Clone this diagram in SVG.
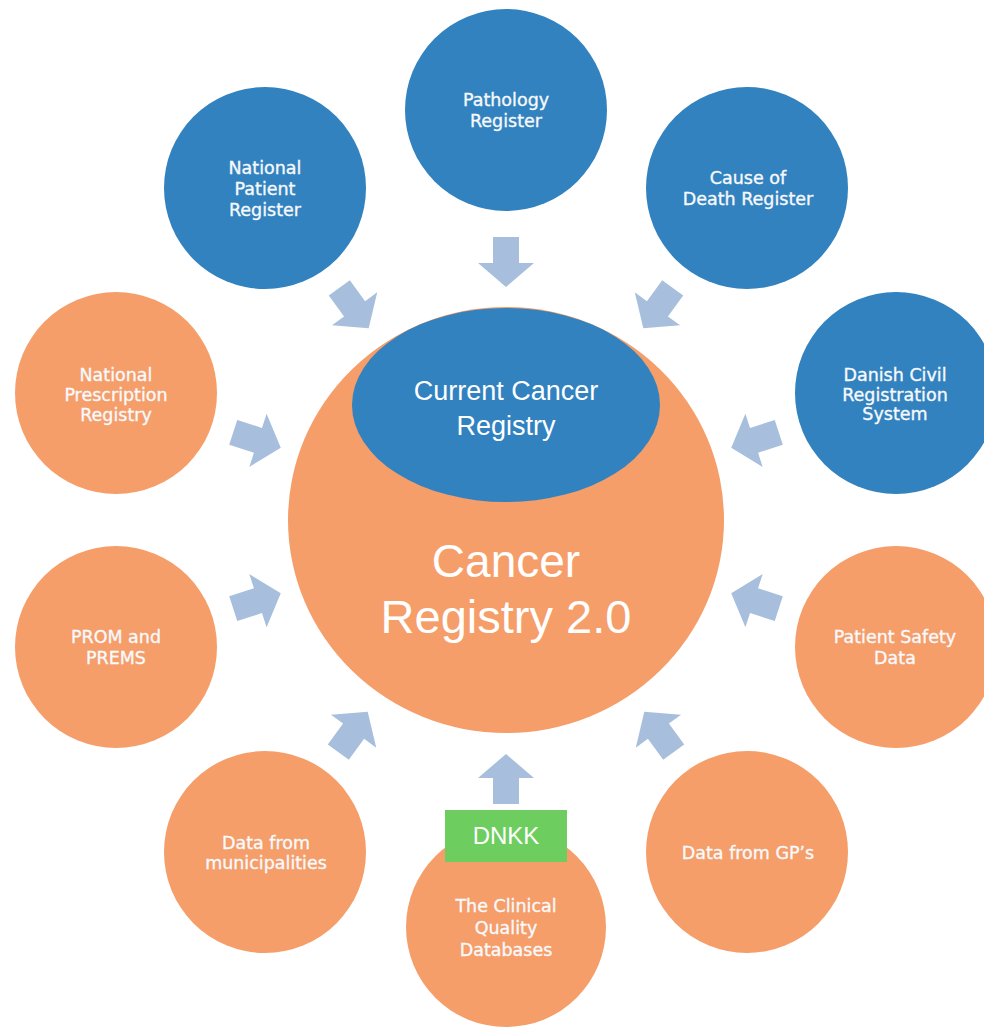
<svg xmlns="http://www.w3.org/2000/svg" width="984" height="1030" viewBox="0 0 984 1030">
  <defs>
    <style>
      .blue { fill: #3282bf; }
      .orange { fill: #f59e6a; }
      .arrow { fill: #a7bfdc; }
      .lbl { font-family: "DejaVu Sans", Verdana, sans-serif; font-size: 17.5px; fill: #f7f9fb; stroke: #f7f9fb; stroke-width: 0.35px; text-anchor: middle; }
      .core { font-family: "Liberation Sans", Arial, sans-serif; fill: #ffffff; text-anchor: middle; }
    </style>
    <!-- block arrow pointing along +x, centred on the origin -->
    <path id="blockArrow" d="M -25,-13 L 1,-13 L 1,-28 L 25,0 L 1,28 L 1,13 L -25,13 Z"/>
  </defs>

  <rect width="984" height="1030" fill="#ffffff"/>

  <!-- source registers -->
  <g id="pathology-register">
    <circle class="blue" cx="506" cy="110" r="101"/>
    <text class="lbl" x="506" y="106">Pathology</text>
    <text class="lbl" x="506" y="127">Register</text>
  </g>
  <g id="national-patient-register">
    <circle class="blue" cx="265" cy="188" r="101"/>
    <text class="lbl" x="265" y="174">National</text>
    <text class="lbl" x="265" y="195">Patient</text>
    <text class="lbl" x="265" y="216">Register</text>
  </g>
  <g id="cause-of-death-register">
    <circle class="blue" cx="747" cy="188" r="101"/>
    <text class="lbl" x="748" y="184">Cause of</text>
    <text class="lbl" x="748" y="205">Death Register</text>
  </g>
  <g id="danish-civil-registration">
    <circle class="blue" cx="896" cy="393" r="101"/>
    <text class="lbl" x="895" y="381">Danish Civil</text>
    <text class="lbl" x="895" y="401">Registration</text>
    <text class="lbl" x="895" y="420">System</text>
  </g>
  <g id="national-prescription-registry">
    <circle class="orange" cx="116" cy="393" r="101"/>
    <text class="lbl" x="116" y="381">National</text>
    <text class="lbl" x="116" y="401">Prescription</text>
    <text class="lbl" x="116" y="421">Registry</text>
  </g>
  <g id="prom-prems">
    <circle class="orange" cx="116" cy="647" r="101"/>
    <text class="lbl" x="116" y="643">PROM and</text>
    <text class="lbl" x="116" y="664">PREMS</text>
  </g>
  <g id="patient-safety-data">
    <circle class="orange" cx="896" cy="647" r="101"/>
    <text class="lbl" x="895" y="643">Patient Safety</text>
    <text class="lbl" x="895" y="664">Data</text>
  </g>
  <g id="municipalities-data">
    <circle class="orange" cx="265" cy="852" r="101"/>
    <text class="lbl" x="266" y="849">Data from</text>
    <text class="lbl" x="266" y="869">municipalities</text>
  </g>
  <g id="gp-data">
    <circle class="orange" cx="747" cy="852" r="101"/>
    <text class="lbl" x="748" y="859">Data from GP’s</text>
  </g>
  <g id="clinical-quality-databases">
    <circle class="orange" cx="506" cy="927" r="100"/>
    <text class="lbl" x="506" y="912">The Clinical</text>
    <text class="lbl" x="506" y="934">Quality</text>
    <text class="lbl" x="506" y="956">Databases</text>
  </g>
  <g id="dnkk">
    <rect x="445" y="810" width="122" height="52" fill="#6dcd5e"/>
    <text class="core" x="506" y="844" font-size="24">DNKK</text>
  </g>

  <!-- central registry -->
  <g id="cancer-registry-2">
    <ellipse class="orange" cx="506" cy="520" rx="218" ry="213"/>
    <text class="core" x="506" y="577" font-size="46">Cancer</text>
    <text class="core" x="506" y="633" font-size="47">Registry 2.0</text>
  </g>
  <g id="current-cancer-registry">
    <ellipse class="blue" cx="506" cy="405" rx="154" ry="97"/>
    <text class="core" x="506" y="400" font-size="27">Current Cancer</text>
    <text class="core" x="506" y="435" font-size="27">Registry</text>
  </g>

  <!-- inflow arrows towards the centre -->
  <g id="connectors" class="arrow">
    <use href="#blockArrow" transform="translate(506,262) rotate(90)"/>
    <use href="#blockArrow" transform="translate(354,308) rotate(54)"/>
    <use href="#blockArrow" transform="translate(658,308) rotate(126)"/>
    <use href="#blockArrow" transform="translate(257,440) rotate(18)"/>
    <use href="#blockArrow" transform="translate(755,440) rotate(162)"/>
    <use href="#blockArrow" transform="translate(257,601) rotate(-18)"/>
    <use href="#blockArrow" transform="translate(755,601) rotate(198)"/>
    <use href="#blockArrow" transform="translate(353,732) rotate(-54)"/>
    <use href="#blockArrow" transform="translate(659,732) rotate(234)"/>
    <use href="#blockArrow" transform="translate(506,779) rotate(-90)"/>
  </g>
</svg>
